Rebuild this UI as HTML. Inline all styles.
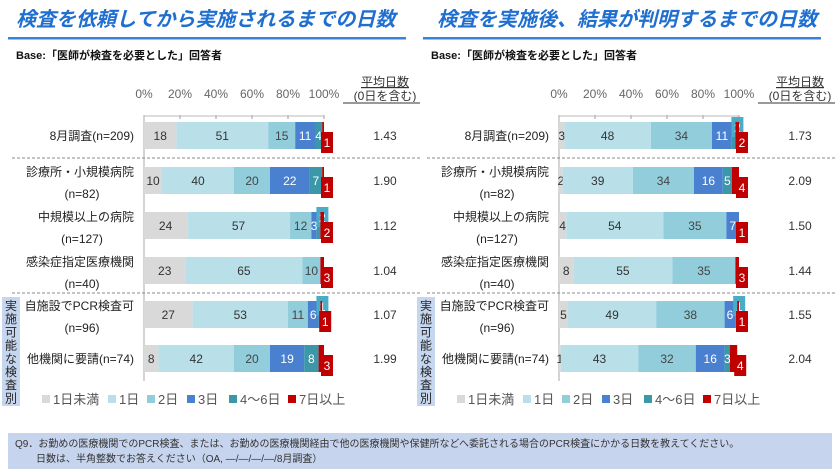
<!DOCTYPE html>
<html><head><meta charset="utf-8"><style>
body{margin:0;width:840px;height:472px;background:#fff;overflow:hidden;font-family:"Liberation Sans","Noto Sans CJK JP",sans-serif}
svg{position:absolute;left:0;top:0}
</style></head><body>
<svg id="c" width="840" height="472" font-family="Liberation Sans, Noto Sans CJK JP, sans-serif"></svg>
<script>
const categories=["8月調査(n=209)","診療所・小規模病院|(n=82)","中規模以上の病院|(n=127)","感染症指定医療機関|(n=40)","自施設でPCR検査可|(n=96)","他機関に要請(n=74)"];
const seriesNames=["1日未満","1日","2日","3日","4～6日","7日以上"];
const leftValues=[[18,51,15,11,4,1],[10,40,20,22,7,1],[24,57,12,3,2,2],[23,65,10,0,0,3],[27,53,11,6,1,1],[8,42,20,19,8,3]];
const rightValues=[[3,48,34,11,2,2],[2,39,34,16,5,4],[4,54,35,7,0,1],[8,55,35,0,0,3],[5,49,38,6,1,1],[1,43,32,16,3,4]];
const leftMeans=["1.43","1.90","1.12","1.04","1.07","1.99"];
const rightMeans=["1.73","2.09","1.50","1.44","1.55","2.04"];
const tickLabels=["0%","20%","40%","60%","80%","100%"];
const colors=["#d9d9d9","#b9e0e9","#92cddc","#4a80d0","#3b98a8","#c00000"];
const textColors=["#333","#333","#444","#fff","#fff","#fff"];
const NS="http://www.w3.org/2000/svg";
const svg=document.getElementById('c');
function mk(tag,attrs,parent,text){const e=document.createElementNS(NS,tag);for(const k in attrs)e.setAttribute(k,attrs[k]);if(text!==undefined)e.textContent=text;(parent||svg).appendChild(e);return e;}
const rowY=[135,180,225,270,314,358];
function panel(ox,vals,means,title,key,titleX){
  const g=mk('g',{});
  const x0=ox+144,W=180; const sx=v=>x0+v/100*W;
  let t=mk('text',{x:titleX,y:26,'font-size':20,'font-weight':'bold','font-style':'italic',fill:'#1f6fd0'},g,title);
  let l=mk('rect',{x:ox+8,y:37,width:398,height:2.5,fill:'#3a82d6'},g);
  t=mk('text',{x:ox+16,y:59,'font-size':11,'font-weight':'bold',fill:'#111'},g,'Base:「医師が検査を必要とした」回答者');
  tickLabels.forEach((s,i)=>{const tx=mk('text',{x:sx(i*20),y:98,'font-size':12,fill:'#666','text-anchor':'middle'},g,s);
    const tk=mk('line',{x1:sx(i*20),x2:sx(i*20),y1:115,y2:119,stroke:'#999'},g);});
  t=mk('text',{x:ox+385,y:86,'font-size':12,fill:'#333','text-anchor':'middle','text-decoration':'underline'},g,'平均日数');
  t=mk('text',{x:ox+385,y:100,'font-size':12,fill:'#333','text-anchor':'middle'},g,'(0日を含む)');
  l=mk('line',{x1:ox+343,x2:ox+420,y1:103,y2:103,stroke:'#999','stroke-width':2},g);
  l=mk('line',{x1:x0,x2:x0,y1:115,y2:381,stroke:'#aaa'},g);
  l=mk('line',{x1:x0,x2:sx(100),y1:116,y2:116,stroke:'#bbb'},g);
  [158,293].forEach(y=>{const d=mk('line',{x1:ox+12,x2:ox+420,y1:y,y2:y,stroke:'#888','stroke-dasharray':'3,2'},g);});
  vals.forEach((row,r)=>{
    const cy=rowY[r],parts=categories[r].split('|');
    parts.forEach((p,i)=>{const ty=parts.length==1?cy+5:cy-8+i*22+4;const tx=mk('text',{x:ox+134,y:ty,'font-size':12,fill:'#222','text-anchor':parts.length==1||i==0?'end':'middle'},g,p);
      if(parts.length>1&&i==1)tx.setAttribute('x',ox+82);
      });
    let acc=0;
    row.forEach((v,s)=>{
      if(v<=0)return;
      const a=sx(acc),b=sx(Math.min(100,acc+v));acc+=v;
      const rc=mk('rect',{x:a,y:cy-13,width:Math.max(0,b-a),height:27,fill:colors[s]},g);
      
      const w=b-a;
      if(s==5){const bx=mk('rect',{x:b-3,y:cy-3,width:12,height:21,fill:colors[5]},g);
        const tx=mk('text',{x:b+3,y:cy+12,'font-size':12,fill:'#fff','text-anchor':'middle'},g,v);}
      else if(s==4&&v<=2){const bx=mk('rect',{x:b-4,y:cy-18,width:12,height:20,fill:'#4bacc6'},g);
        const tx=mk('text',{x:b+2,y:cy-3,'font-size':12,fill:'#fff','text-anchor':'middle'},g,v);}
      else{const tx=mk('text',{x:(a+b)/2,y:cy+5,'font-size':12,fill:textColors[s],'text-anchor':'middle'},g,v);}
    });
    const mt=mk('text',{x:ox+385,y:cy+5,'font-size':12,fill:'#333','text-anchor':'middle'},g,means[r]);
  });
  const sb=mk('rect',{x:ox+2,y:297,width:18,height:109,fill:'#c6d6ef'},g);
  "実施可能な検査別".split('').forEach((ch,i)=>{const tx=mk('text',{x:ox+11,y:310+i*13.2,'font-size':12,fill:'#222','text-anchor':'middle'},g,ch);});
  const lx=[42,108,147,187,229,288];
  seriesNames.forEach((n,i)=>{const sq=mk('rect',{x:ox+lx[i],y:395,width:8,height:8,fill:colors[i]},g);
    const tx=mk('text',{x:ox+lx[i]+11,y:404,'font-size':13,fill:'#555'},g,n);});
}
panel(0,leftValues,leftMeans,'検査を依頼してから実施されるまでの日数','left',16);
panel(415,rightValues,rightMeans,'検査を実施後、結果が判明するまでの日数','right',437);
const fb=mk('rect',{x:8,y:433,width:824,height:36,fill:'#c6d4ee'});
let ft=mk('text',{x:15,y:447,'font-size':10,fill:'#333'},svg,'Q9．お勤めの医療機関でのPCR検査、または、お勤めの医療機関経由で他の医療機関や保健所などへ委託される場合のPCR検査にかかる日数を教えてください。');
ft=mk('text',{x:36,y:462,'font-size':10,fill:'#333'},svg,'日数は、半角整数でお答えください（OA, ―/―/―/―/8月調査）');
</script>
</body></html>
